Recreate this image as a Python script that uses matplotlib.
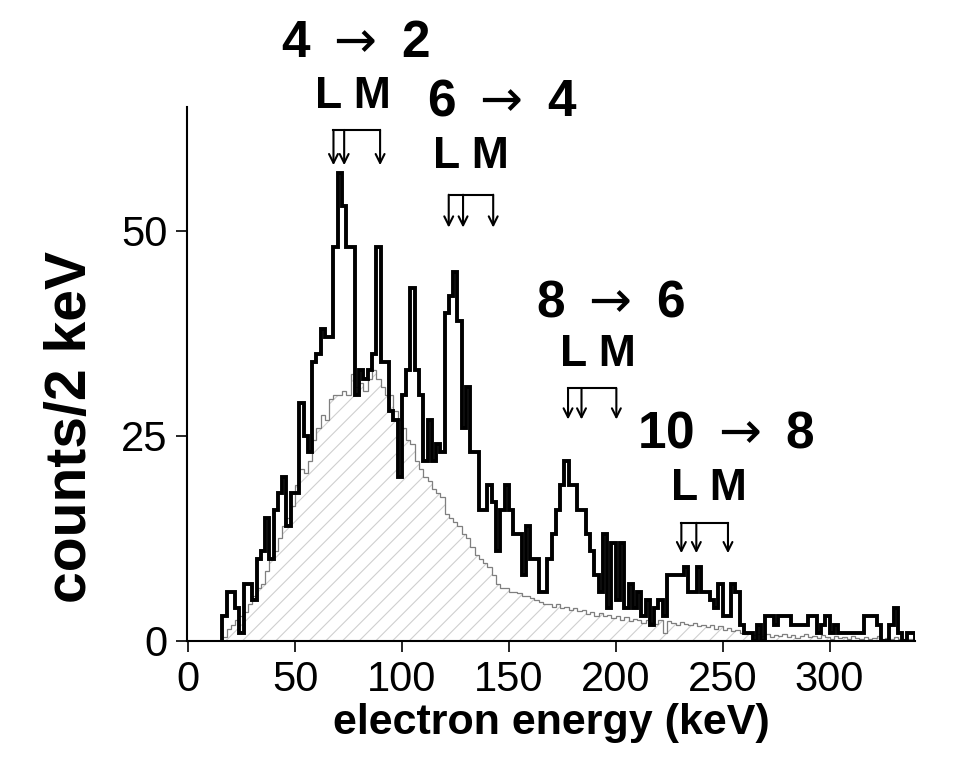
import numpy as np
import matplotlib
matplotlib.use("Agg")
from matplotlib import pyplot as plt

plt.rcParams['font.family'] = ['Liberation Sans', 'DejaVu Sans']
plt.rcParams['mathtext.fontset'] = 'dejavusans'
plt.rcParams['hatch.linewidth'] = 0.8

# 2 keV bins starting at 16 keV
bin_start = 16
bin_width = 2

# measured spectrum (black), counts per 2 keV
measured = [3, 6, 6, 4, 1, 7, 7, 5, 10, 11,
            15, 10, 16, 18, 20, 14, 18, 18, 29, 25,
            23, 34, 35, 38, 37, 37, 48, 57, 53, 48,
            48, 30, 33, 32, 33, 35, 48, 34, 34, 28,
            27, 20, 30, 33, 43, 33, 30, 22, 27, 22,
            24, 23, 40, 42, 45, 39, 26, 31, 23, 23,
            16, 16, 19, 17, 11, 16, 19, 16, 13, 13,
            8, 14, 10, 10, 6, 6, 10, 13, 16, 19,
            22, 19, 19, 16, 16, 13, 11, 8, 6, 13,
            4, 12, 5, 12, 4, 7, 4, 6, 3, 5,
            2, 4, 5, 3, 8, 8, 8, 8, 9, 6,
            6, 9, 6, 6, 5, 4, 7, 3, 3, 7,
            6, 2, 1, 1, 0, 2, 0, 3, 3, 2,
            3, 3, 3, 2, 2, 2, 2, 3, 3, 1,
            2, 3, 1, 2, 1, 1, 1, 1, 1, 1,
            3, 3, 3, 2, 0, 0, 2, 4, 1, 0,
            1, 1]

# background / simulated spectrum (gray, hatched)
background = [0.5, 1.5, 2, 2.5, 3, 3.5, 4.5, 5.5, 6.5, 7,
              8.5, 10, 11, 12.5, 14, 15, 16.5, 19, 21, 20.5,
              22, 24.5, 26, 27.5, 27, 29.5, 30, 30, 30.5, 30,
              32.5, 31, 31.5, 30.5, 32, 33, 32, 31, 30, 30,
              28, 27, 26, 24.5, 24, 22, 21, 20, 19.5, 18.5,
              18, 17.5, 15.5, 15, 14.5, 14, 13, 12.5, 11.5, 10.5,
              10, 9.5, 9, 8, 7, 6.5, 6.5, 6, 6, 5.8,
              5.5, 5.5, 5.2, 5, 4.8, 4.5, 4.5, 4.2, 4.5, 4,
              4.2, 3.8, 4, 3.6, 3.8, 3.3, 3.5, 3, 3.4, 3,
              3.2, 2.8, 3, 2.6, 2.9, 2.4, 2.7, 2.5, 2.2, 2.6,
              2.3, 2.1, 2.5, 1.0, 2.4, 2.2, 2.0, 2.3, 2.1, 1.9,
              2.2, 1.8, 2.0, 1.7, 1.9, 1.5, 1.8, 1.4, 1.6, 1.2,
              1.4, 1.0, 0.8, 1.0, 0.7, 0.9, 0.6, 0.8, 0.5, 0.7,
              0.6, 0.8, 0.5, 0.7, 0.4, 0.6, 0.8, 0.5, 0.6, 0.4,
              0.7, 0.5, 0.3, 0.6, 0.4, 0.5, 0.3, 0.6, 0.4, 0.3,
              0.5, 0.3, 0.4, 0.6, 0.3, 0.4, 0.2, 0.5, 0.3, 0.2,
              0.3, 0.2]

# transitions: label, L1/L2/M conversion energies (keV)
transitions = ["4", "6", "8", "10"]
finals = ["2", "4", "6", "8"]
line_energies = [[68.0, 73.0, 89.8],
                 [121.9, 128.6, 142.7],
                 [177.7, 184.0, 200.3],
                 [230.7, 237.7, 252.5]]
# bracket top / arrow tip heights (counts) and label anchors
bracket_top = [62.3, 54.4, 30.8, 14.4]
arrow_tip = [58.0, 50.4, 27.0, 10.7]
title_xy = [(78.3, 72.9), (146.7, 65.7), (197.7, 41.2), (251.7, 25.2)]
lm_xy = [(77.3, 66.4), (132.5, 59.1), (191.6, 34.9), (243.5, 18.6)]

edges = bin_start + bin_width * np.arange(len(measured) + 1)

fig = plt.figure(figsize=(9.61, 7.62), dpi=100)
ax = fig.add_axes([0.1946, 0.1588, 0.7576, 0.7008])

# hatched background
ax.stairs(background, edges, fill=True, facecolor='white', edgecolor='#cfcfcf',
          hatch='//', linewidth=0)
ax.stairs(background, edges, color='#7f7f7f', linewidth=0.9)
ax.stairs(measured, edges, color='black', linewidth=2.8)

ax.set_xlim(-0.5, 340)
ax.set_ylim(0, 65.1)
ax.set_xticks([0, 50, 100, 150, 200, 250, 300])
ax.set_yticks([0, 25, 50])
ax.tick_params(axis='both', labelsize=30, length=8, width=1.2, pad=6, direction='out')
for s in ['top', 'right']:
    ax.spines[s].set_visible(False)
for s in ['left', 'bottom']:
    ax.spines[s].set_linewidth(1.5)

ax.set_xlabel("electron energy (keV)", fontsize=31, fontweight='bold', labelpad=2)
ax.set_ylabel("counts/2 keV", fontsize=41, fontweight='bold')
ax.yaxis.set_label_coords(-0.122, 0.40)

# conversion line markers
for k in range(len(transitions)):
    e = line_energies[k]
    ax.plot([e[0], e[-1]], [bracket_top[k]] * 2, color='black', lw=1.5, clip_on=False)
    for x in e:
        ax.annotate('', xy=(x, arrow_tip[k]), xytext=(x, bracket_top[k]),
                    arrowprops=dict(arrowstyle='->', lw=1.5, color='black',
                                    shrinkA=0, shrinkB=0, mutation_scale=16),
                    annotation_clip=False)
    tx, ty = title_xy[k]
    ax.text(tx, ty, transitions[k] + r" $\rightarrow$ " + finals[k], fontsize=37,
            fontweight='bold', ha='center', va='center', clip_on=False)
    lx, ly = lm_xy[k]
    ax.text(lx, ly, "L M", fontsize=32, fontweight='bold', ha='center', va='center',
            clip_on=False)

fig.savefig("out.png", dpi=100)
